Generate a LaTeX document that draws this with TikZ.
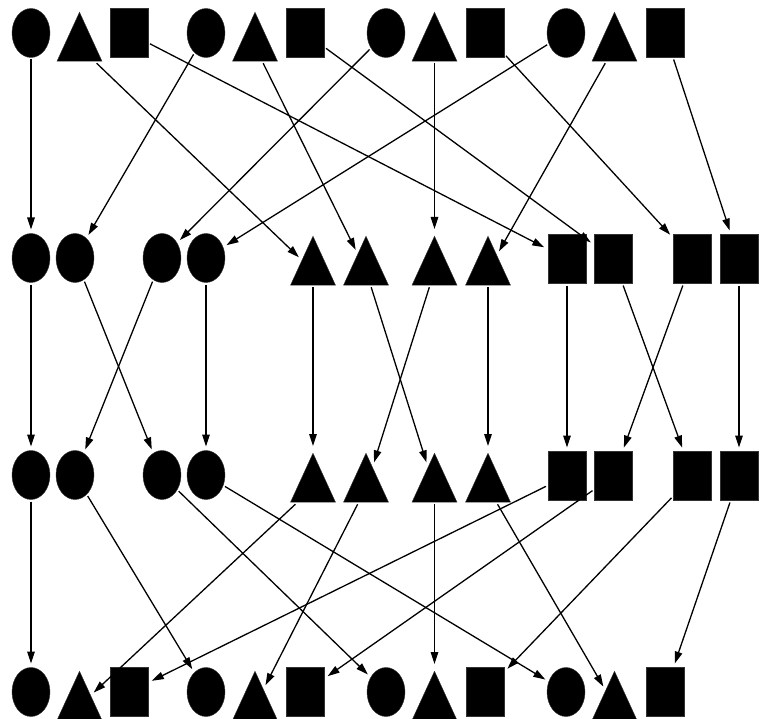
\documentclass[tikz,border=0pt]{standalone}
\usetikzlibrary{arrows.meta, shapes.geometric, positioning}

\begin{document}
\begin{tikzpicture}[x=1pt, y=-1pt,
  circ/.style={ellipse, fill=black, draw=black!80, line width=0.4pt, minimum width=38pt, minimum height=49pt, inner sep=0pt, outer sep=2pt},
  tri/.style={isosceles triangle, isosceles triangle stretches, shape border rotate=90, anchor=apex, fill=black, draw=black!80, line width=0.4pt, minimum width=45pt, minimum height=49pt, inner sep=0pt, outer sep=2pt},
  sq/.style={rectangle, fill=black, draw=black!80, line width=0.4pt, minimum width=38pt, minimum height=49pt, inner sep=0pt, outer sep=2pt},
  arr/.style={-{Triangle[length=12pt,width=7.5pt]}, line width=1.3pt, shorten >=2pt}]
\useasboundingbox (0,0) rectangle (765,719);
% Fila 1: cuatro grupos circulo, triangulo, cuadrado
\node[circ] (a1c) at (31,33) {};
\node[tri]  (a1t) at (79.5,7) {};
\node[sq]   (a1s) at (129,33) {};
\node[circ] (a2c) at (206,33) {};
\node[tri]  (a2t) at (255,7) {};
\node[sq]   (a2s) at (305,33) {};
\node[circ] (a3c) at (386,33) {};
\node[tri]  (a3t) at (434.5,7) {};
\node[sq]   (a3s) at (485,33) {};
\node[circ] (a4c) at (566,33) {};
\node[tri]  (a4t) at (614.5,7) {};
\node[sq]   (a4s) at (665,33) {};
% Fila 2: figuras ordenadas por tipo
\node[circ] (b1)  at (31,258) {};
\node[circ] (b2)  at (75,258) {};
\node[circ] (b3)  at (162,258) {};
\node[circ] (b4)  at (206,258) {};
\node[tri]  (b5)  at (313,231) {};
\node[tri]  (b6)  at (366,231) {};
\node[tri]  (b7)  at (434.5,231) {};
\node[tri]  (b8)  at (488,231) {};
\node[sq]   (b9)  at (567,259) {};
\node[sq]   (b10) at (613.5,259) {};
\node[sq]   (b11) at (692.5,259) {};
\node[sq]   (b12) at (739,259) {};
% Fila 3
\node[circ] (c1)  at (31,475) {};
\node[circ] (c2)  at (75,475) {};
\node[circ] (c3)  at (162,475) {};
\node[circ] (c4)  at (206,475) {};
\node[tri]  (c5)  at (313,448) {};
\node[tri]  (c6)  at (366,448) {};
\node[tri]  (c7)  at (434.5,448) {};
\node[tri]  (c8)  at (488,448) {};
\node[sq]   (c9)  at (567,476) {};
\node[sq]   (c10) at (613.5,476) {};
\node[sq]   (c11) at (692.5,476) {};
\node[sq]   (c12) at (739,476) {};
% Fila 4: grupos otra vez
\node[circ] (d1c) at (31,692) {};
\node[tri]  (d1t) at (79.5,666) {};
\node[sq]   (d1s) at (129,692) {};
\node[circ] (d2c) at (206,692) {};
\node[tri]  (d2t) at (255,666) {};
\node[sq]   (d2s) at (305,692) {};
\node[circ] (d3c) at (386,692) {};
\node[tri]  (d3t) at (434.5,666) {};
\node[sq]   (d3s) at (485,692) {};
\node[circ] (d4c) at (566,692) {};
\node[tri]  (d4t) at (614.5,666) {};
\node[sq]   (d4s) at (665,692) {};
% Flechas fila 1 a fila 2
\draw[arr] (a1c) -- (b1);
\draw[arr] (a1t) -- (b5);
\draw[arr] (a1s) -- (b9);
\draw[arr] (a2c) -- (b2);
\draw[arr] (a2t) -- (b6);
\draw[arr] (a2s) -- (b10);
\draw[arr] (a3c) -- (b3);
\draw[arr] (a3t) -- (b7);
\draw[arr] (a3s) -- (b11);
\draw[arr] (a4c) -- (b4);
\draw[arr] (a4t) -- (b8);
\draw[arr] (a4s) -- (b12);
% Flechas fila 2 a fila 3
\draw[arr] (b1) -- (c1);
\draw[arr] (b2) -- (c3);
\draw[arr] (b3) -- (c2);
\draw[arr] (b4) -- (c4);
\draw[arr] (b5) -- (c5);
\draw[arr] (b6) -- (c7);
\draw[arr] (b7) -- (c6);
\draw[arr] (b8) -- (c8);
\draw[arr] (b9) -- (c9);
\draw[arr] (b10) -- (c11);
\draw[arr] (b11) -- (c10);
\draw[arr] (b12) -- (c12);
% Flechas fila 3 a fila 4
\draw[arr] (c1) -- (d1c);
\draw[arr] (c2) -- (d2c);
\draw[arr] (c3) -- (d3c);
\draw[arr] (c4) -- (d4c);
\draw[arr] (c5) -- (d1t);
\draw[arr] (c6) -- (d2t);
\draw[arr] (c7) -- (d3t);
\draw[arr] (c8) -- (d4t);
\draw[arr] (c9) -- (d1s);
\draw[arr] (c10) -- (d2s);
\draw[arr] (c11) -- (d3s);
\draw[arr] (c12) -- (d4s);
\end{tikzpicture}
\end{document}
